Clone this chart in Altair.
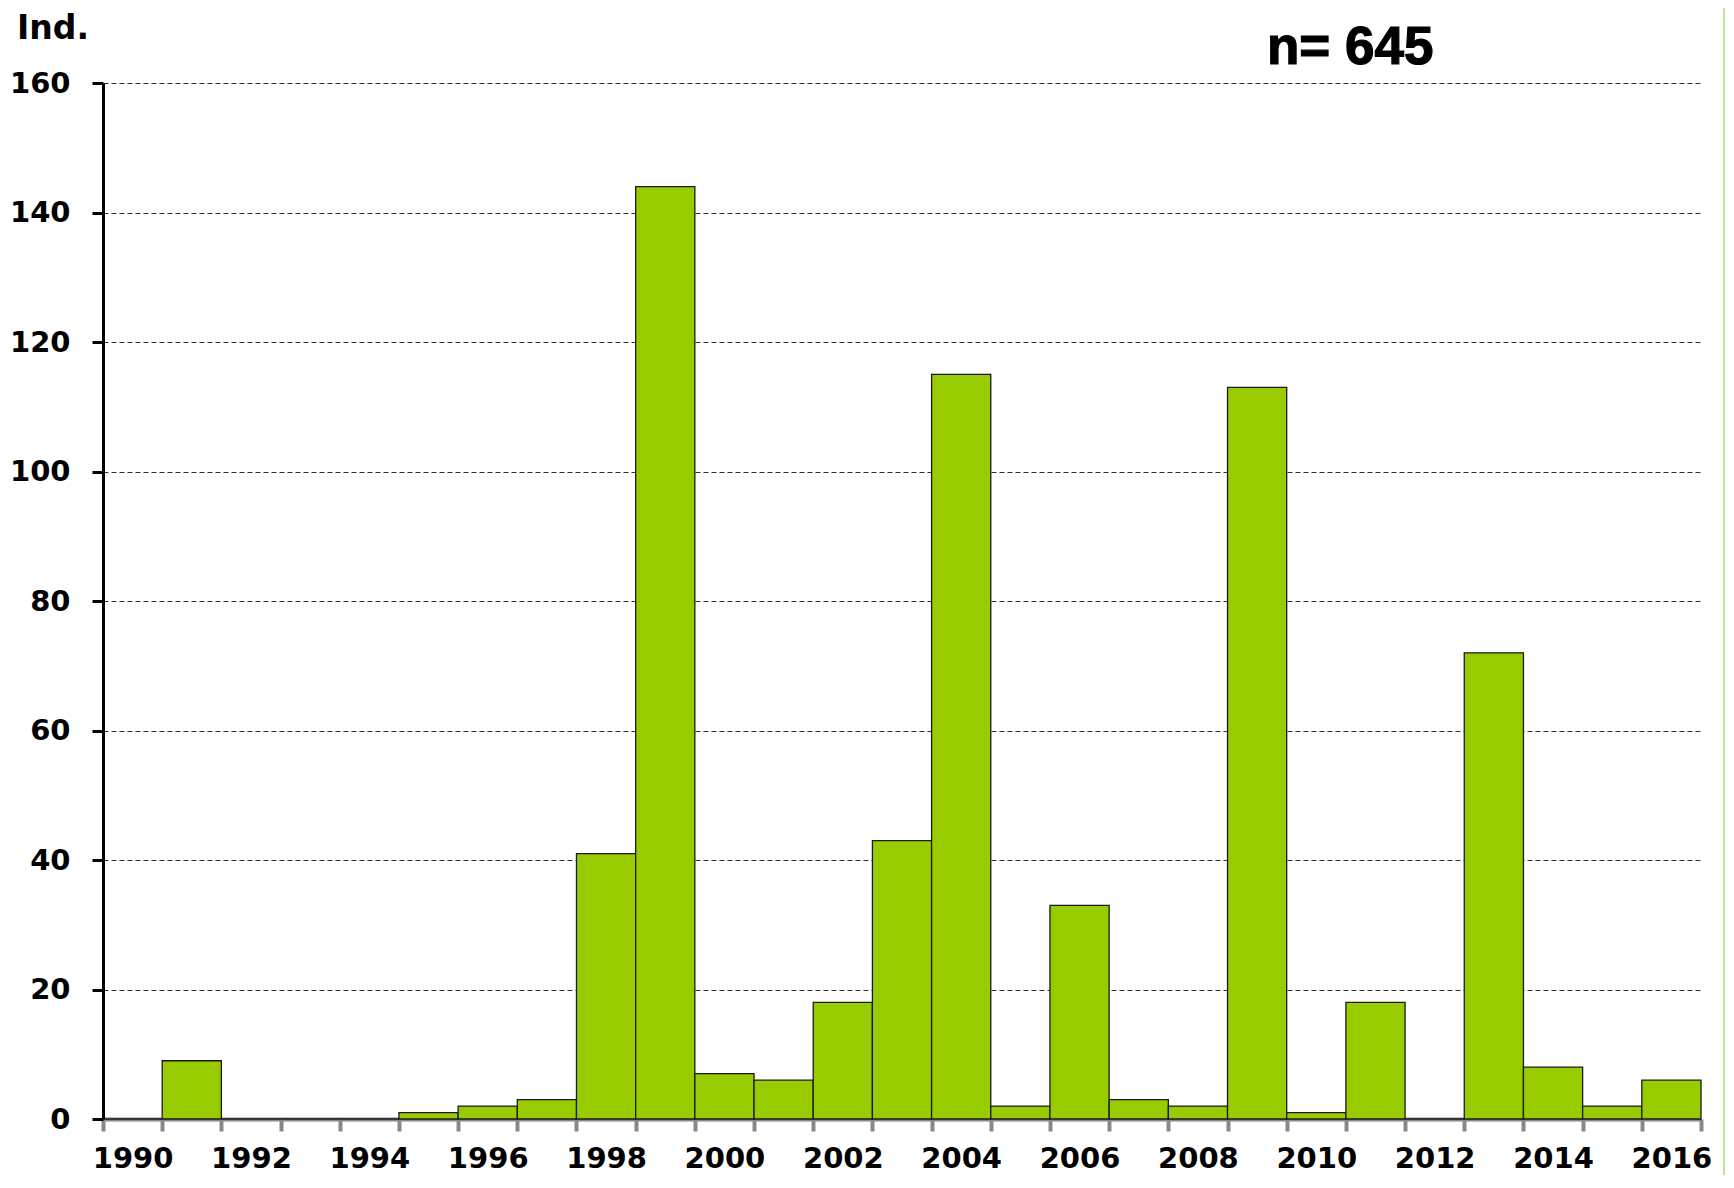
import altair as alt
import pandas as pd

years = [str(y) for y in range(1990, 2017)]
counts = [0, 9, 0, 0, 0, 1, 2, 3, 41, 144, 7, 6, 18, 43, 115, 2, 33, 3, 2, 113, 1, 18, 0, 72, 8, 2, 6]
y_ticks = [0, 20, 40, 60, 80, 100, 120, 140, 160]
y_title = "Ind."
n_label = "n= 645"

df = pd.DataFrame({"year": years, "count": counts})

FONT = "DejaVu Sans"

bars = alt.Chart(df).mark_bar(
    color="#99CC00", stroke="#1a1a1a", strokeWidth=1.3
).encode(
    x=alt.X(
        "year:N",
        sort=years,
        scale=alt.Scale(paddingInner=0, paddingOuter=0),
        axis=alt.Axis(
            title=None,
            labelAngle=0,
            labelExpr="parseInt(datum.label) % 2 == 0 ? datum.label : ''",
            tickBand="extent",
            domainColor="#888888",
            domainWidth=4,
            tickColor="#888888",
            tickWidth=4,
            tickSize=12,
            labelPadding=13,
            labelFont=FONT,
            labelFontWeight="bold",
            labelFontSize=29,
            labelColor="black",
            grid=False,
        ),
    ),
    y=alt.Y(
        "count:Q",
        scale=alt.Scale(domain=[0, 160], nice=False),
        axis=alt.Axis(
            title=None,
            values=y_ticks,
            domainColor="black",
            domainWidth=3,
            tickColor="black",
            tickWidth=3,
            tickSize=11,
            labelPadding=22,
            labelFont=FONT,
            labelFontWeight="bold",
            labelFontSize=29,
            labelColor="black",
            grid=True,
            gridColor="#333333",
            gridWidth=1,
            gridDash=[5, 3],
        ),
    ),
)

title_txt = alt.Chart(pd.DataFrame({"t": [y_title]})).mark_text(
    font=FONT, fontWeight="bold", fontSize=33, align="left", baseline="alphabetic", color="black"
).encode(x=alt.value(-86), y=alt.value(-44), text="t:N")

n_txt = alt.Chart(pd.DataFrame({"t": [n_label]})).mark_text(
    font="Liberation Sans", fontWeight="bold", fontSize=53, align="left", baseline="alphabetic",
    color="black", stroke="black", strokeWidth=1.2
).encode(x=alt.value(1164), y=alt.value(-19), text="t:N")

edge = alt.Chart(pd.DataFrame({"a": [0]})).mark_rule(color="#c3e2a0", strokeWidth=2).encode(
    x=alt.value(1621), y=alt.value(-75), y2=alt.value(1092)
)

chart = alt.layer(bars, title_txt, n_txt, edge).properties(
    width=1598,
    height=1036,
    autosize=alt.AutoSizeParams(type="none"),
    padding={"left": 95, "top": 75, "right": 25, "bottom": 56},
).configure_view(stroke=None)

chart.save("out.html", embed_options={"renderer": "svg", "actions": False})
